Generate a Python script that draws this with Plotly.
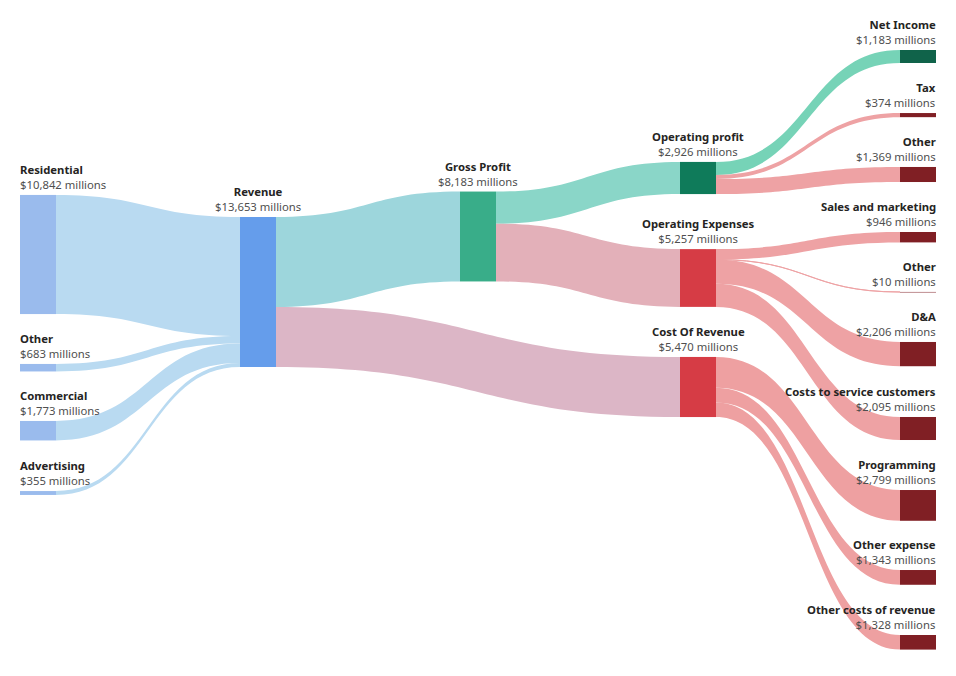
import plotly.graph_objects as go

# ---------------- data ----------------
node_names = [
    "Residential", "Other", "Commercial", "Advertising",
    "Revenue", "Gross Profit", "Cost Of Revenue",
    "Operating profit", "Operating Expenses",
    "Net Income", "Tax", "Other",
    "Sales and marketing", "Other", "D&A", "Costs to service customers",
    "Programming", "Other expense", "Other costs of revenue",
]
link_source = [0, 1, 2, 3, 4, 4, 5, 5, 7, 7, 7, 8, 8, 8, 8, 6, 6, 6]
link_target = [4, 4, 4, 4, 5, 6, 7, 8, 9, 10, 11, 12, 13, 14, 15, 16, 17, 18]
link_value = [10842, 683, 1773, 355, 8183, 5470, 2926, 5257,
              1183, 374, 1369, 946, 10, 2206, 2095, 2799, 1343, 1328]

# ---------------- layout / style ----------------
OFF = 8                      # default page body margin
W, H = 956 - OFF, 676 - OFF  # figure size
SANKEY_H = 420               # height of the sankey domain (sets the value scale)
NODE_SPAN = 150              # pixel height of the full flow
THICK = 36
PAD = (SANKEY_H - NODE_SPAN) / 9

# node centre positions, page pixels
node_cx = [38, 38, 38, 38, 258, 478, 698, 698, 698,
           918, 918, 918, 918, 918, 918, 918, 918, 918, 918]
node_cy = [254.5, 367.7, 430.7, 493.0, 292.0, 236.5, 387.0, 178.0, 278.0,
           56.5, 115.1, 174.5, 237.2, 292.0, 354.1, 428.5, 505.4, 577.4, 642.3]

SRC = "#9abbed"
node_colors = [SRC, SRC, SRC, SRC, "#659deb", "#39ad89", "#d63c45",
               "#0f7b5a", "#d63c45", "#10634a"] + ["#801f24"] * 9

link_colors = (["#b9daf1"] * 4 + ["#9dd6dc", "#dcb6c6", "#8ad6c8", "#e3b0b9",
               "#76d3b7"] + ["#eea2a4"] * 6 + ["#eea0a1"] * 3)

# node values from links
n = len(node_names)
inflow = [0] * n
outflow = [0] * n
for s, t, v in zip(link_source, link_target, link_value):
    outflow[s] += v
    inflow[t] += v
node_values = [max(a, b) for a, b in zip(inflow, outflow)]

fig = go.Figure(go.Sankey(
    arrangement="fixed",
    domain=dict(x=[0, 1], y=[1 - SANKEY_H / H, 1]),
    node=dict(
        label=node_names,
        x=[(c - OFF) / W for c in node_cx],
        y=[(c - OFF) / SANKEY_H for c in node_cy],
        color=node_colors,
        thickness=THICK,
        pad=PAD,
        line=dict(width=0),
    ),
    link=dict(source=link_source, target=link_target, value=link_value,
              color=link_colors),
    textfont=dict(color="rgba(0,0,0,0)", size=1),
))

total = sum(link_value[:4])
ky = NODE_SPAN / total

annotations = []
for i, name in enumerate(node_names):
    top = node_cy[i] - node_values[i] * ky / 2
    if node_cx[i] < 100:
        x, xa, al = (node_cx[i] - THICK / 2 - OFF) / W, "left", "left"
    elif node_cx[i] > 900:
        x, xa, al = (node_cx[i] + THICK / 2 - OFF) / W, "right", "right"
    else:
        x, xa, al = (node_cx[i] - OFF) / W, "center", "center"
    annotations.append(dict(
        xref="paper", yref="paper", x=x, y=1 - (top - 3 - OFF) / H,
        xanchor=xa, yanchor="bottom", align=al, showarrow=False,
        borderpad=0, borderwidth=0,
        text=f"<b><span style='color:#252423'>{name}</span></b><br>"
             f"<span style='color:#4f4f4f'>${node_values[i]:,} millions</span>",
        font=dict(family="Noto Sans, Open Sans, sans-serif", size=11.3),
    ))

fig.update_layout(
    width=W, height=H,
    margin=dict(l=0, r=0, t=0, b=0),
    paper_bgcolor="white",
    annotations=annotations,
)

fig.write_html("out.html")
